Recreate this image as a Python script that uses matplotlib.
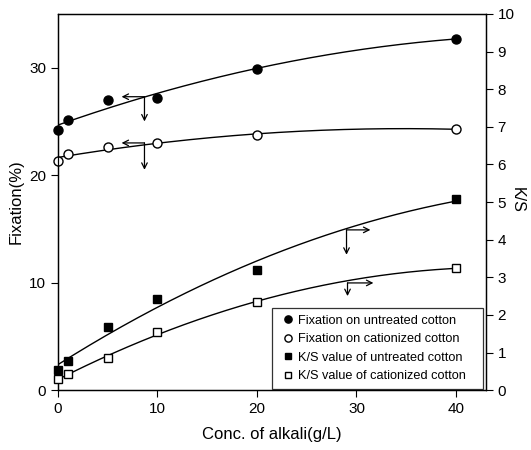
import numpy as np
import matplotlib
matplotlib.use("Agg")
import matplotlib.pyplot as plt

plt.rcParams['font.family'] = ['Liberation Sans', 'DejaVu Sans']

conc = [0, 1, 5, 10, 20, 40]
fix_untreated = [24.2, 25.1, 27.0, 27.2, 29.9, 32.7]
fix_cationized = [21.3, 22.0, 22.6, 23.0, 23.7, 24.3]
ks_untreated = [0.53, 0.77, 1.68, 2.42, 3.19, 5.07]
ks_cationized = [0.29, 0.43, 0.85, 1.54, 2.34, 3.24]
labels = ["Fixation on untreated cotton", "Fixation on cationized cotton",
          "K/S value of untreated cotton", "K/S value of cationized cotton"]

fig = plt.figure(figsize=(5.31, 4.5), dpi=100)
ax = fig.add_axes([0.109, 0.133, 0.806, 0.836])
ax2 = ax.twinx()

xs = np.linspace(0, 40, 200)

def fit(y, deg=2):
    p = np.polyfit(conc, y, deg)
    return np.polyval(p, xs)

lw = 1.0
ax.plot(xs, fit(fix_untreated), color='black', lw=lw)
ax.plot(xs, fit(fix_cationized), color='black', lw=lw)
ax2.plot(xs, fit(ks_untreated), color='black', lw=lw)
ax2.plot(xs, fit(ks_cationized), color='black', lw=lw)

ms = 6.5
h1, = ax.plot(conc, fix_untreated, 'o', color='black', ms=ms, ls='none', clip_on=False, zorder=5)
h2, = ax.plot(conc, fix_cationized, 'o', mfc='white', mec='black', ms=ms, ls='none', clip_on=False, zorder=5)
h3, = ax2.plot(conc, ks_untreated, 's', color='black', ms=ms-0.5, ls='none', clip_on=False, zorder=5)
h4, = ax2.plot(conc, ks_cationized, 's', mfc='white', mec='black', ms=ms-0.5, ls='none', clip_on=False, zorder=5)

ax.set_xlim(0, 43)
ax.set_ylim(0, 35)
ax2.set_ylim(0, 10)
ax.set_xticks([0, 10, 20, 30, 40])
ax.set_yticks([0, 10, 20, 30])
ax2.set_yticks(range(0, 11))

for a in (ax, ax2):
    a.tick_params(direction='out', length=5, width=0.8, labelsize=11)
    for s in a.spines.values():
        s.set_linewidth(0.9)

ax.set_xlabel("Conc. of alkali(g/L)", fontsize=12, labelpad=8)
ax.set_ylabel("Fixation(%)", fontsize=12)
ax2.set_ylabel("K/S", fontsize=11.5, rotation=270, labelpad=2, va='center')
ax2.yaxis.set_label_coords(1.073, 0.505)

ap = dict(arrowstyle='->', color='black', lw=0.9, shrinkA=0, shrinkB=0)
# fixation arrows (left axis)
ax.annotate('', xy=(6.4, 27.3), xytext=(8.7, 27.3), arrowprops=ap)
ax.annotate('', xy=(8.7, 25.0), xytext=(8.7, 27.3), arrowprops=ap)
ax.annotate('', xy=(6.4, 23.0), xytext=(8.7, 23.0), arrowprops=ap)
ax.annotate('', xy=(8.7, 20.5), xytext=(8.7, 23.0), arrowprops=ap)
# K/S arrows (right axis)
ax2.annotate('', xy=(31.4, 4.26), xytext=(29.0, 4.26), arrowprops=ap)
ax2.annotate('', xy=(29.0, 3.6), xytext=(29.0, 4.26), arrowprops=ap)
ax2.annotate('', xy=(31.7, 2.85), xytext=(29.1, 2.85), arrowprops=ap)
ax2.annotate('', xy=(29.1, 2.5), xytext=(29.1, 2.85), arrowprops=ap)

leg = ax2.legend([h1, h2, h3, h4], labels, loc='lower left', fontsize=9.2,
                 bbox_to_anchor=(0.5, 0.003, 0.493, 0.218), mode='expand',
                 frameon=True, fancybox=False, edgecolor='black',
                 handlelength=1.4, handletextpad=0.1, borderaxespad=0.0,
                 borderpad=0.55, markerscale=0.8, labelspacing=0.5)
leg.get_frame().set_linewidth(0.9)

fig.savefig("out.png", dpi=100)
